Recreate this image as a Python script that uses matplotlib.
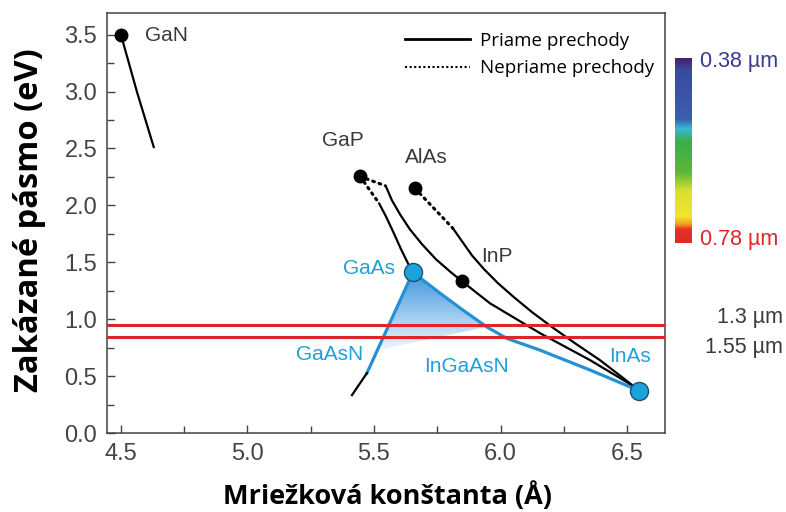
import numpy as np
import matplotlib
matplotlib.use("Agg")
import matplotlib.pyplot as plt
from matplotlib.colors import LinearSegmentedColormap
from matplotlib.lines import Line2D
from matplotlib.patches import Polygon

# lattice constant (A) / band gap (eV)
gan_x = [4.50, 4.563, 4.63]
gan_y = [3.50, 3.00, 2.51]

gap_inp_dot_x = [5.445, 5.545]
gap_inp_dot_y = [2.254, 2.172]
gap_inp_x = [5.547, 5.571, 5.603, 5.642, 5.690, 5.745, 5.804, 5.848]
gap_inp_y = [2.167, 2.044, 1.921, 1.789, 1.658, 1.526, 1.412, 1.333]

inp_inas_x = [5.848, 5.958, 6.156, 6.354, 6.499, 6.549]
inp_inas_y = [1.333, 1.140, 0.877, 0.640, 0.447, 0.371]

gaasp_dot_x = [5.445, 5.518]
gaasp_dot_y = [2.254, 2.025]
gaasp_x = [5.520, 5.547, 5.575, 5.607, 5.638, 5.654]
gaasp_y = [2.018, 1.904, 1.772, 1.614, 1.474, 1.412]

alinas_dot_x = [5.662, 5.812]
alinas_dot_y = [2.149, 1.798]
alinas_x = [5.812, 5.848, 5.887, 5.935, 5.990, 6.053, 6.125, 6.204, 6.294, 6.393, 6.480, 6.549]
alinas_y = [1.798, 1.684, 1.561, 1.439, 1.316, 1.193, 1.061, 0.930, 0.789, 0.640, 0.491, 0.371]

ingaas_x = [5.654, 5.761, 5.852, 5.945, 6.025, 6.156, 6.354, 6.549]
ingaas_y = [1.412, 1.228, 1.079, 0.933, 0.831, 0.728, 0.553, 0.371]

gaasn_blue_x = [5.654, 5.472]
gaasn_blue_y = [1.412, 0.526]
gaasn_black_x = [5.472, 5.413]
gaasn_black_y = [0.526, 0.333]

# shaded InGaAsN region
region_x = [5.654, 5.761, 5.852, 5.945, 5.516]
region_y = [1.412, 1.228, 1.079, 0.933, 0.728]

black_pts_x = [4.50, 5.445, 5.662, 5.848]
black_pts_y = [3.50, 2.254, 2.149, 1.333]
blue_pts_x = [5.654, 6.549]
blue_pts_y = [1.412, 0.371]

telecom_ev = [0.95, 0.84]

labels_black = ["GaN", "GaP", "AlAs", "InP"]
labels_black_x = [4.595, 5.377, 5.708, 5.985]
labels_black_y = [3.49, 2.57, 2.424, 1.55]
labels_blue = ["GaAs", "GaAsN", "InGaAsN", "InAs"]
labels_blue_x = [5.48, 5.326, 5.865, 6.512]
labels_blue_y = [1.445, 0.69, 0.58, 0.67]

BLUE = "#2590d3"
BLUE_TXT = "#1ea0d8"
RED = "#e0242a"
TXT = "#3a3a3a"

fig = plt.figure(figsize=(7.86, 5.12), dpi=100)
ax = fig.add_axes([107 / 786, 1 - 433 / 512, 558 / 786, 420 / 512])

lw = 1.6
kw = dict(color="black", lw=lw, solid_joinstyle="round", solid_capstyle="round")
ax.plot(gan_x, gan_y, **kw)
ax.plot(gap_inp_x, gap_inp_y, **kw)
ax.plot(inp_inas_x, inp_inas_y, **kw)
ax.plot(gaasp_x, gaasp_y, **kw)
ax.plot(alinas_x, alinas_y, **kw)
for dx, dy in [(gap_inp_dot_x, gap_inp_dot_y), (gaasp_dot_x, gaasp_dot_y), (alinas_dot_x, alinas_dot_y)]:
    ax.plot(dx, dy, color="black", lw=2.2, linestyle=(0, (0.6, 1.6)), dash_capstyle="round")

# gradient fill of the InGaAsN triangle
poly = Polygon(np.column_stack([region_x, region_y]), closed=True, facecolor="none", edgecolor="none")
ax.add_patch(poly)
grad_cmap = LinearSegmentedColormap.from_list("g", ["#eef6fc", "#94c6ee", "#3f95dc"])
grad = np.linspace(0, 1, 100).reshape(-1, 1)
im = ax.imshow(grad, extent=[min(region_x), max(region_x), min(region_y), max(region_y)],
               origin="lower", cmap=grad_cmap, aspect="auto", zorder=1.5)
im.set_clip_path(poly)

ax.plot(ingaas_x, ingaas_y, color=BLUE, lw=2.3, zorder=3, solid_joinstyle="round")
ax.plot(gaasn_blue_x, gaasn_blue_y, color=BLUE, lw=2.3, zorder=3)
ax.plot(gaasn_black_x, gaasn_black_y, color="black", lw=lw, zorder=3)

for ev in telecom_ev:
    ax.axhline(ev, color=RED, lw=2.2, zorder=4)

ax.plot(black_pts_x, black_pts_y, "o", color="black", ms=9, zorder=5)
ax.plot(blue_pts_x, blue_pts_y, "o", mfc="#1ba3dd", mec="#1d4f73", mew=1.0, ms=13, zorder=6)

fnt = "Liberation Sans"
for t, x, y in zip(labels_black, labels_black_x, labels_black_y):
    ax.text(x, y, t, color=TXT, fontsize=15, family=fnt, ha="left" if t == "GaN" else "center", va="center")
for t, x, y in zip(labels_blue, labels_blue_x, labels_blue_y):
    ax.text(x, y, t, color=BLUE_TXT, fontsize=15, family=fnt, ha="center", va="center")

handles = [Line2D([], [], color="black", lw=2.0),
           Line2D([], [], color="black", lw=1.5, linestyle=(0, (1, 1.2)))]
ax.legend(handles, ["Priame prechody", "Nepriame prechody"], loc="upper left",
          bbox_to_anchor=(0.534, 0.955), frameon=False, borderpad=0, borderaxespad=0,
          handlelength=3.45, handletextpad=0.55, labelspacing=0.5,
          prop={"family": "Open Sans", "size": 13.5})

ax.set_xlim(4.445, 6.65)
ax.set_ylim(0, 3.69)
ax.set_xticks([4.5, 5.0, 5.5, 6.0, 6.5])
ax.set_xticks(np.arange(4.5, 6.6, 0.25), minor=True)
ax.set_yticks(np.arange(0, 3.6, 0.5))
ax.set_yticks(np.arange(0, 3.6, 0.25), minor=True)
ax.xaxis.set_major_formatter(matplotlib.ticker.FormatStrFormatter("%.1f"))
ax.yaxis.set_major_formatter(matplotlib.ticker.FormatStrFormatter("%.1f"))
ax.tick_params(which="both", direction="in", color="#444444", width=1.0, top=False, right=False)
ax.tick_params(which="major", length=6, pad=7, labelsize=17, labelcolor="#444444")
ax.tick_params(which="minor", length=5)
for lab in ax.get_xticklabels() + ax.get_yticklabels():
    lab.set_family(fnt)
for sp in ax.spines.values():
    sp.set_color("#444444")
    sp.set_linewidth(1.1)

ax.set_xlabel("Mriežková konštanta (Å)", fontsize=19.5, fontweight="bold", family="Open Sans")
ax.xaxis.set_label_coords(0.502, -0.15)
ax.xaxis.label.set_va("center")
ax.set_ylabel("Zakázané pásmo (eV)", fontsize=23.5, fontweight="bold", family="Open Sans")
ax.yaxis.set_label_coords(-0.138, 0.507)
ax.yaxis.label.set_va("center")

# visible spectrum bar
spec_cmap = LinearSegmentedColormap.from_list("spec", [
    (0.0, "#4b1f6f"), (0.06, "#3b4a9c"), (0.33, "#3a5fb0"), (0.38, "#3ab7d4"),
    (0.45, "#3aae4a"), (0.62, "#5cb83a"), (0.72, "#d9e030"), (0.86, "#f2e52c"),
    (0.90, "#f4a21c"), (0.93, "#e63027"), (1.0, "#e02a2a")])
cax = fig.add_axes([675 / 786, 1 - 243 / 512, 17 / 786, 185 / 512])
cax.imshow(np.linspace(0, 1, 200).reshape(-1, 1), cmap=spec_cmap, aspect="auto")
cax.axis("off")

fig.text(700 / 786, 1 - 62 / 512, "0.38 µm", color="#3a3a8c", fontsize=15.5, family=fnt, va="center")
fig.text(700 / 786, 1 - 239 / 512, "0.78 µm", color=RED, fontsize=15.5, family=fnt, va="center")
fig.text(783 / 786, 1 - 318 / 512, "1.3 µm", color=TXT, fontsize=15.5, family=fnt, va="center", ha="right")
fig.text(783 / 786, 1 - 348 / 512, "1.55 µm", color=TXT, fontsize=15.5, family=fnt, va="center", ha="right")

fig.savefig("out.png", dpi=100)
